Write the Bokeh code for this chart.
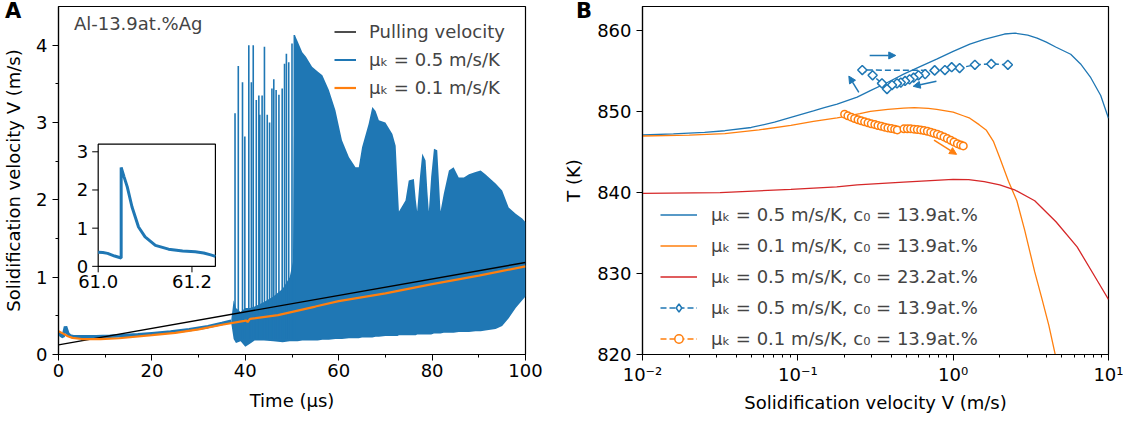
import numpy as np
from bokeh.plotting import figure
from bokeh.models import (Range1d, Legend, LegendItem, Label, Arrow, NormalHead, FixedTicker,
                          GridBox, Div)
from bokeh.embed import file_html
from bokeh.resources import INLINE
from bokeh.core.properties import value

FONT = "DejaVu Sans"
FS = "18px"
BLUE, ORANGE, RED = "#1f77b4", "#ff7f0e", "#d62728"

# ---------------- Panel A data ----------------
pull_t = [0.0, 100.0]
pull_v = [0.125, 1.19]

blue_early_t = [0.0, 0.5, 1.0, 1.5, 2.0, 2.5, 3.2, 5.0, 8.0, 11.0, 14.0, 17.0, 20.0, 24.0, 28.0, 32.0, 35.0, 37.0]
blue_early_v = [0.28, 0.25, 0.23, 0.36, 0.27, 0.24, 0.23, 0.23, 0.23, 0.235, 0.245, 0.255, 0.27, 0.29, 0.32, 0.36, 0.40, 0.43]

band_t = [37.0, 37.5, 38.0, 39.0, 40.0, 41.0, 42.0, 44.0, 46.0, 48.0, 49.5, 50.2, 50.6, 51.2, 52.2, 53.0,
          54.3, 55.5, 56.5, 57.9, 59.3, 60.7, 62.2, 63.6, 64.3, 65.0, 66.4, 67.2, 67.9, 68.6, 70.0, 71.5,
          72.2, 72.6, 72.9, 74.3, 75.0, 76.1, 76.5, 76.8, 77.4, 77.9, 78.6, 79.0, 79.3, 79.8, 80.4, 81.1,
          81.5, 81.8, 82.5, 83.6, 84.6, 85.7, 86.8, 87.9, 89.3, 90.4, 91.4, 93.6, 95.0, 96.4, 97.9, 99.3, 100.0]
band_lo = [0.40, 0.20, 0.15, 0.17, 0.10, 0.14, 0.18, 0.18, 0.17, 0.16, 0.17, 0.17, 0.17, 0.17, 0.18, 0.18,
           0.18, 0.18, 0.19, 0.19, 0.20, 0.20, 0.21, 0.21, 0.21, 0.22, 0.22, 0.22, 0.23, 0.23, 0.24, 0.24,
           0.24, 0.24, 0.25, 0.25, 0.25, 0.25, 0.25, 0.26, 0.26, 0.26, 0.26, 0.26, 0.26, 0.26, 0.27, 0.27,
           0.27, 0.27, 0.28, 0.28, 0.28, 0.29, 0.29, 0.29, 0.30, 0.30, 0.31, 0.33, 0.37, 0.47, 0.60, 0.70, 0.75]
band_hi = [0.45, 0.70, 0.60, 0.55, 0.60, 0.60, 0.62, 0.68, 0.75, 0.85, 1.00, 1.20, 4.13, 4.05, 3.91, 3.85,
           3.72, 3.66, 3.61, 3.42, 3.16, 2.77, 2.55, 2.42, 2.42, 2.68, 2.98, 3.20, 3.15, 3.03, 3.00, 2.85,
           2.70, 2.20, 1.85, 1.99, 2.25, 2.27, 2.00, 1.85, 2.30, 2.60, 2.51, 2.10, 1.85, 2.30, 2.66, 2.64,
           2.20, 1.85, 2.08, 2.38, 2.42, 2.29, 2.29, 2.33, 2.36, 2.38, 2.33, 2.21, 2.12, 1.90, 1.82, 1.76, 1.71]

spike_t = [37.8, 38.5, 39.4, 39.9, 40.75, 41.3, 41.7, 42.35, 42.9, 43.1, 43.6, 44.1, 44.7, 45.2, 45.7,
           46.1, 46.6, 47.2, 47.9, 48.4, 48.8, 49.3, 50.0, 50.5]
spike_top = [3.12, 3.73, 3.52, 2.82, 4.00, 3.52, 4.00, 3.29, 3.35, 3.10, 3.35, 3.98, 3.10, 3.00, 3.44,
             3.56, 3.42, 3.36, 3.44, 3.76, 3.89, 3.78, 4.02, 4.13]
spike_base = [0.20, 0.20, 0.20, 0.20, 0.20, 0.20, 0.20, 0.20, 0.20, 0.20, 0.20, 0.20, 0.20, 0.20, 0.20,
              0.20, 0.20, 0.20, 0.20, 0.20, 0.20, 0.20, 0.20, 0.20]

orange_t = [0.0, 1.0, 2.0, 3.0, 5.0, 9.0, 13.0, 20.0, 25.0, 30.0, 35.0, 39.8, 40.2, 40.5, 41.0, 47.0,
            55.0, 60.0, 70.0, 80.0, 90.0, 100.0]
orange_v = [0.30, 0.27, 0.235, 0.215, 0.20, 0.20, 0.21, 0.25, 0.28, 0.325, 0.385, 0.435, 0.44, 0.42, 0.46,
            0.51, 0.62, 0.69, 0.79, 0.91, 1.02, 1.14]

inset_t = [61.0, 61.01, 61.02, 61.035, 61.049, 61.049, 61.055, 61.062, 61.072, 61.086, 61.1, 61.122,
           61.15, 61.18, 61.207, 61.225, 61.24, 61.25]
inset_v = [0.37, 0.36, 0.34, 0.27, 0.22, 2.59, 2.35, 2.08, 1.56, 1.03, 0.77, 0.55, 0.45, 0.40, 0.38,
           0.35, 0.30, 0.26]

a_xticks = [0, 20, 40, 60, 80, 100]
a_xminor = [10, 30, 50, 70, 90]
a_yticks = [0, 1, 2, 3, 4]
a_yminor = [0.5, 1.5, 2.5, 3.5]
inset_xticks = [61.0, 61.2]
inset_xtick_labels = ["61.0", "61.2"]
inset_yticks = [0, 1, 2, 3]
inset_ytick_labels = ["0", "1", "2", "3"]

# ---------------- Panel B data ----------------
b1_V = [0.01, 0.0158, 0.0251, 0.0339, 0.0501, 0.0708, 0.0902, 0.126, 0.148, 0.179, 0.241, 0.293, 0.372,
        0.480, 0.617, 0.783, 1.0, 1.28, 1.585, 2.14, 2.51, 3.02, 3.47, 3.98, 4.57, 5.71, 6.61, 7.69, 8.91, 10.0]
b1_T = [847.12, 847.25, 847.45, 847.65, 848.05, 848.70, 849.30, 850.10, 850.50, 850.95, 851.80, 852.60,
        853.55, 854.65, 855.60, 856.50, 857.45, 858.36, 858.95, 859.60, 859.70, 859.45, 859.10, 858.60,
        858.00, 857.10, 855.90, 854.20, 852.00, 849.20]

o1_V = [0.01, 0.02, 0.0339, 0.0562, 0.0902, 0.126, 0.179, 0.2, 0.251, 0.293, 0.380, 0.480, 0.562, 0.692,
        0.783, 1.0, 1.161, 1.28, 1.469, 1.637, 1.82, 1.995, 2.27, 2.57, 2.884, 3.35, 3.715, 4.13, 4.71]
o1_T = [847.00, 847.10, 847.30, 847.75, 848.30, 848.80, 849.25, 849.40, 849.75, 850.05, 850.30, 850.45,
        850.50, 850.40, 850.30, 849.95, 849.50, 849.20, 848.40, 847.70, 846.30, 844.30, 841.40, 839.00,
        835.40, 830.20, 827.00, 823.60, 818.60]

r1_V = [0.01, 0.0316, 0.0902, 0.178, 0.241, 0.479, 1.0, 1.259, 1.585, 1.995, 2.512, 3.35, 4.59, 6.28,
        8.61, 10.0]
r1_T = [839.90, 840.00, 840.40, 840.70, 840.95, 841.30, 841.65, 841.60, 841.35, 840.95, 840.30, 839.00,
        836.40, 833.30, 828.90, 826.80]

bd_V = [2.25, 1.76, 1.38, 1.10, 0.978, 0.885, 0.76, 0.66, 0.598, 0.556, 0.524, 0.49, 0.46, 0.435, 0.404,
        0.375, 0.348, 0.303, 0.26, 0.76]
bd_T = [855.8, 855.9, 855.8, 855.4, 855.5, 855.15, 855.1, 854.65, 854.5, 854.2, 854.0, 853.8, 853.6, 853.5,
        853.3, 852.8, 853.5, 854.5, 855.15, 855.1]

oc_V = [0.200, 0.210, 0.221, 0.232, 0.244, 0.256, 0.269, 0.283, 0.297, 0.313, 0.328, 0.345, 0.362, 0.380,
        0.400, 0.420, 0.437, 0.482, 0.507, 0.532, 0.560, 0.588, 0.618, 0.649, 0.682, 0.717, 0.753, 0.791,
        0.830, 0.873, 0.917, 0.964, 1.012, 1.064, 1.118, 1.162]
oc_T = [849.70, 849.49, 849.33, 849.16, 849.00, 848.88, 848.75, 848.63, 848.50, 848.42, 848.30, 848.21,
        848.09, 848.00, 847.91, 847.84, 847.75, 847.88, 847.88, 847.88, 847.84, 847.79, 847.75, 847.67,
        847.59, 847.47, 847.33, 847.21, 847.05, 846.89, 846.68, 846.47, 846.26, 846.05, 845.89, 845.77]

b_xticks = [0.01, 0.1, 1, 10]
b_xtick_labels = ["10\u207b\u00b2", "10\u207b\u00b9", "10\u2070", "10\u00b9"]
b_xminor = [0.02, 0.03, 0.04, 0.05, 0.06, 0.07, 0.08, 0.09, 0.2, 0.3, 0.4, 0.5, 0.6, 0.7, 0.8, 0.9,
            2, 3, 4, 5, 6, 7, 8, 9]
b_yticks = [820, 830, 840, 850, 860]

lab_05 = "\u03bc\u2096 = 0.5 m/s/K"
lab_01 = "\u03bc\u2096 = 0.1 m/s/K"
lab_b1 = "\u03bc\u2096 = 0.5 m/s/K, c\u2080 = 13.9at.%"
lab_b2 = "\u03bc\u2096 = 0.1 m/s/K, c\u2080 = 13.9at.%"
lab_b3 = "\u03bc\u2096 = 0.5 m/s/K, c\u2080 = 23.2at.%"

NAN = np.array([np.nan])


def style_axes(p):
    p.outline_line_color = "black"
    p.outline_line_width = 1.2
    p.outline_line_alpha = 1.0
    p.xgrid.visible = False
    p.ygrid.visible = False
    p.background_fill_color = "white"
    p.border_fill_color = "white"
    for ax in [p.xaxis[0], p.yaxis[0]]:
        ax.axis_line_color = "black"
        ax.axis_line_width = 1.2
        ax.major_tick_in = 0
        ax.major_tick_out = 6
        ax.minor_tick_in = 0
        ax.minor_tick_out = 3
        ax.major_tick_line_color = "black"
        ax.minor_tick_line_color = "black"
        ax.major_label_text_font = FONT
        ax.major_label_text_font_size = FS
        ax.major_label_text_color = "black"
        ax.major_label_text_line_height = 1.0
        ax.major_label_standoff = 5
        ax.axis_label_text_font = FONT
        ax.axis_label_text_font_size = FS
        ax.axis_label_text_font_style = "normal"
        ax.axis_label_text_color = "black"
        ax.axis_label_text_line_height = 1.0
    p.xaxis.major_label_standoff = 3


# ---------------- Panel A ----------------
pA = figure(frame_width=467, frame_height=348, title=None, x_range=Range1d(0, 100), y_range=Range1d(0, 4.5),
            output_backend="svg", toolbar_location=None,
            min_border_left=55, min_border_right=35, min_border_top=6, min_border_bottom=61)
style_axes(pA)
pA.xaxis.ticker = FixedTicker(ticks=a_xticks, minor_ticks=a_xminor)
pA.yaxis.ticker = FixedTicker(ticks=a_yticks, minor_ticks=a_yminor)
pA.xaxis.axis_label = "Time (\u03bcs)"
pA.yaxis.axis_label = "Solidification velocity V (m/s)"
pA.xaxis.axis_label_standoff = 10
pA.yaxis.axis_label_standoff = 9

pA.varea(x=band_t, y1=band_lo, y2=band_hi, fill_color=BLUE)
pA.segment(x0=spike_t, y0=spike_base, x1=spike_t, y1=spike_top, line_color=BLUE, line_width=1.6)
pA.line(blue_early_t, blue_early_v, line_color=BLUE, line_width=3.5)
r_black = pA.line(pull_t, pull_v, line_color="black", line_width=1.4)
r_orange = pA.line(orange_t, orange_v, line_color=ORANGE, line_width=2.2)
leg_blue = pA.line(x=NAN, y=NAN, line_color=BLUE, line_width=2)

# inset drawn through a sub-coordinate mapping of the main plot
sub = pA.subplot(x_source=Range1d(61.0, 61.25), y_source=Range1d(0, 3.2),
                 x_target=Range1d(8.5, 33.6), y_target=Range1d(1.14, 2.72))
sub.quad(left=[61.0], right=[61.25], bottom=[0.0], top=[3.2], fill_color="white",
         line_color="black", line_width=1.2)
sub.line(inset_t, inset_v, line_color=BLUE, line_width=3)
sub.ray(x=61.0, y=inset_yticks, length=6, angle=np.pi, length_units="screen", line_color="black")
sub.ray(x=inset_xticks, y=0.0, length=6, angle=-np.pi / 2, length_units="screen", line_color="black")
sub.text(x=61.0, y=inset_yticks, text=inset_ytick_labels, text_align="right", text_baseline="middle",
         x_offset=-10, text_font=value(FONT), text_font_size=FS, text_color="black")
sub.text(x=inset_xticks, y=0.0, text=inset_xtick_labels, text_align="center", text_baseline="top",
         y_offset=9, text_font=value(FONT), text_font_size=FS, text_color="black")

pA.add_layout(Label(x=3.3, y=4.28, text="Al-13.9at.%Ag", text_font=FONT, text_font_size=FS,
                    text_baseline="middle"))

legA = Legend(items=[LegendItem(label="Pulling velocity", renderers=[r_black]),
                     LegendItem(label=lab_05, renderers=[leg_blue]),
                     LegendItem(label=lab_01, renderers=[r_orange])],
              location=(276, 256), padding=0, margin=0, spacing=7, label_height=21, glyph_height=21,
              glyph_width=22, label_standoff=13, background_fill_alpha=0, border_line_alpha=0,
              label_text_font=FONT, label_text_font_size=FS)
pA.add_layout(legA)

# ---------------- Panel B ----------------
pB = figure(frame_width=466, frame_height=348, title=None, x_axis_type="log", x_range=Range1d(0.01, 10),
            y_range=Range1d(820, 863), output_backend="svg", toolbar_location=None,
            min_border_left=77, min_border_right=15, min_border_top=6, min_border_bottom=61)
style_axes(pB)
pB.xaxis.ticker = FixedTicker(ticks=b_xticks, minor_ticks=b_xminor)
pB.xaxis.major_label_overrides = dict(zip(b_xticks, b_xtick_labels))
pB.yaxis.ticker = FixedTicker(ticks=b_yticks, minor_ticks=[])
pB.xaxis.axis_label = "Solidification velocity V (m/s)"
pB.yaxis.axis_label = "T (K)"
pB.xaxis.axis_label_standoff = 4
pB.yaxis.axis_label_standoff = 10

rb1 = pB.line(b1_V, b1_T, line_color=BLUE, line_width=1.3)
ro1 = pB.line(o1_V, o1_T, line_color=ORANGE, line_width=1.3)
rr1 = pB.line(r1_V, r1_T, line_color=RED, line_width=1.3)
rbd_l = pB.line(bd_V, bd_T, line_color=BLUE, line_width=1.5, line_dash="6 3")
pB.scatter(bd_V, bd_T, marker="square", angle=np.pi / 4, size=6.5, line_color=BLUE,
           fill_color="white", line_width=1.5)
rbd_leg = pB.scatter(x=NAN, y=NAN, marker="diamond", size=9, line_color=BLUE, fill_color="white",
                     line_width=1.5)
roc_l = pB.line(oc_V, oc_T, line_color=ORANGE, line_width=1.5, line_dash="6 3")
roc_m = pB.scatter(oc_V, oc_T, marker="circle", size=7.5, line_color=ORANGE, fill_color="white",
                   line_width=1.5)

for (x0, y0, x1, y1, c) in [(0.247, 852.4, 0.213, 854.4, BLUE),
                            (0.290, 856.95, 0.427, 856.95, BLUE),
                            (0.780, 853.77, 0.553, 853.14, BLUE),
                            (0.753, 846.5, 1.052, 844.73, ORANGE)]:
    pB.add_layout(Arrow(end=NormalHead(size=7, fill_color=c, line_color=c, line_width=1),
                        x_start=x0, y_start=y0, x_end=x1, y_end=y1, line_color=c, line_width=1.5))

legB = Legend(items=[LegendItem(label=lab_b1, renderers=[rb1]),
                     LegendItem(label=lab_b2, renderers=[ro1]),
                     LegendItem(label=lab_b3, renderers=[rr1]),
                     LegendItem(label=lab_b1, renderers=[rbd_l, rbd_leg]),
                     LegendItem(label=lab_b2, renderers=[roc_l, roc_m])],
              location=(18, 5), padding=0, margin=0, spacing=10, label_height=21, glyph_height=21,
              glyph_width=37, label_standoff=14, background_fill_alpha=0, border_line_alpha=0,
              label_text_font=FONT, label_text_font_size=FS)
pB.add_layout(legB)

# panel letters, laid over the top-left corner of each panel
letter_style = {"font-family": FONT, "font-weight": "bold", "font-size": "21px", "line-height": "1",
                "color": "black"}
divA = Div(text="A", width=24, height=24, margin=(1, 0, 0, 5), align="start", styles=letter_style)
divB = Div(text="B", width=24, height=24, margin=(1, 0, 0, 16), align="start", styles=letter_style)

layout = GridBox(children=[(pA, 0, 0), (pB, 0, 1), (divA, 0, 0), (divB, 0, 1)], spacing=0)
open("out.html", "w").write(file_html(layout, INLINE))
